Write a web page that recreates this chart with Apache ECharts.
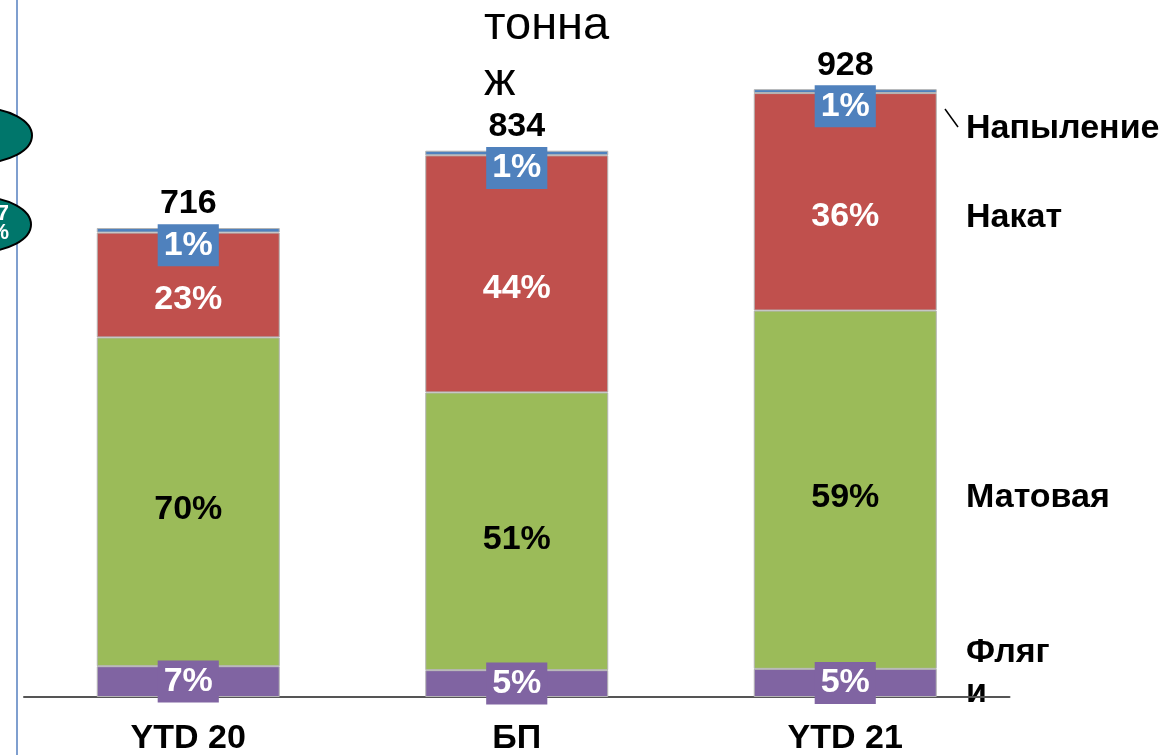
<!DOCTYPE html>
<html>
<head>
<meta charset="utf-8">
<script src="https://cdn.jsdelivr.net/npm/echarts@6/dist/echarts.min.js"></script>
<style>
html,body{margin:0;padding:0;background:#fff;}
#chart{width:1164px;height:755px;}
</style>
</head>
<body>
<div id="chart"></div>
<script>
// ---- data ----
const categories = ['YTD 20', 'БП', 'YTD 21'];
const totals = [716, 834, 928];
const flyagi = [47, 41, 43];        // Фляги (tonnes)
const matovaya = [502, 424, 547];   // Матовая
const nakat = [160, 362, 332];      // Накат
const napylenie = [7, 7, 6];        // Напыление
const flyagiPct = ['7%', '5%', '5%'];
const matovayaPct = ['70%', '51%', '59%'];
const nakatPct = ['23%', '44%', '36%'];
const napyleniePct = ['1%', '1%', '1%'];
const unitTitle = 'тонна\nж';

const FONT = 'Liberation Sans';
const FS = 34;
const chart = echarts.init(document.getElementById('chart'));

function seg(name, data, pcts, color, label) {
  return {
    name: name, type: 'bar', stack: 'total', barWidth: 183,
    data: data,
    itemStyle: { color: color, borderColor: '#b4b4b4', borderWidth: 1 },
    label: Object.assign({
      show: true, position: 'inside', fontFamily: FONT, fontWeight: 'bold', fontSize: FS,
      formatter: p => pcts[p.dataIndex]
    }, label),
    emphasis: { disabled: true },
    animation: false
  };
}

const option = {
  animation: false,
  title: {
    text: unitTitle, left: 479, top: -7,
    textStyle: { fontFamily: FONT, fontWeight: 'normal', fontSize: 47, lineHeight: 56, color: '#000' }
  },
  grid: { left: 24, right: 154.5, top: 42, bottom: 58, containLabel: false, outerBoundsMode: 'none' },
  xAxis: {
    type: 'category', data: categories,
    axisLine: { show: true, lineStyle: { color: '#555', width: 2 } },
    axisTick: { show: false },
    axisLabel: { fontFamily: FONT, fontWeight: 'bold', fontSize: FS, color: '#000', margin: 25 }
  },
  yAxis: { type: 'value', min: 0, max: 1000, show: false, splitLine: { show: false } },
  series: [
    seg('Фляги', flyagi, flyagiPct, '#8064a2',
      { color: '#fff', backgroundColor: '#8064a2', padding: [3, 6], lineHeight: 36 }),
    seg('Матовая', matovaya, matovayaPct, '#9bbb59', { color: '#000', offset: [0, 8] }),
    seg('Накат', nakat, nakatPct, '#c0504d', { color: '#fff', offset: [0, 15] }),
    seg('Напыление', napylenie, napyleniePct, '#4f81bd',
      { color: '#fff', backgroundColor: '#4f81bd', padding: [3, 6], lineHeight: 36, offset: [0, 15] }),
    {
      name: 'total', type: 'bar', stack: 'total', barWidth: 183,
      data: totals.map(() => 0),
      itemStyle: { color: 'transparent', borderWidth: 0 },
      label: {
        show: true, position: 'top', distance: 7, fontFamily: FONT, fontWeight: 'bold',
        fontSize: FS, color: '#000', formatter: p => String(totals[p.dataIndex])
      },
      emphasis: { disabled: true }, silent: true
    }
  ],
  graphic: [
    { type: 'line', shape: { x1: 17, y1: 0, x2: 17, y2: 755 }, style: { stroke: '#7f9fcf', lineWidth: 2 } },
    { type: 'ellipse', shape: { cx: -20, cy: 135.5, rx: 52, ry: 27.5 }, style: { fill: '#00766b', stroke: '#000', lineWidth: 2 } },
    { type: 'ellipse', shape: { cx: -21, cy: 224.5, rx: 52, ry: 27.5 }, style: { fill: '#00766b', stroke: '#000', lineWidth: 2 } },
    { type: 'text', x: 9, y: 223, style: { text: '7\n%', fill: '#fff', font: 'bold 22px ' + FONT, align: 'right', verticalAlign: 'middle', lineHeight: 19 } },
    { type: 'line', shape: { x1: 945, y1: 109, x2: 958, y2: 127 }, style: { stroke: '#000', lineWidth: 1.5 } },
    { type: 'text', x: 966, y: 129, style: { text: 'Напыление', fill: '#000', font: 'bold 34px ' + FONT, verticalAlign: 'middle' } },
    { type: 'text', x: 966, y: 218, style: { text: 'Накат', fill: '#000', font: 'bold 34px ' + FONT, verticalAlign: 'middle' } },
    { type: 'text', x: 966, y: 498, style: { text: 'Матовая', fill: '#000', font: 'bold 34px ' + FONT, verticalAlign: 'middle' } },
    { type: 'text', x: 966, y: 673, style: { text: 'Фляг\nи', fill: '#000', font: 'bold 34px ' + FONT, verticalAlign: 'middle', lineHeight: 40 } }
  ]
};
chart.setOption(option);
</script>
</body>
</html>
